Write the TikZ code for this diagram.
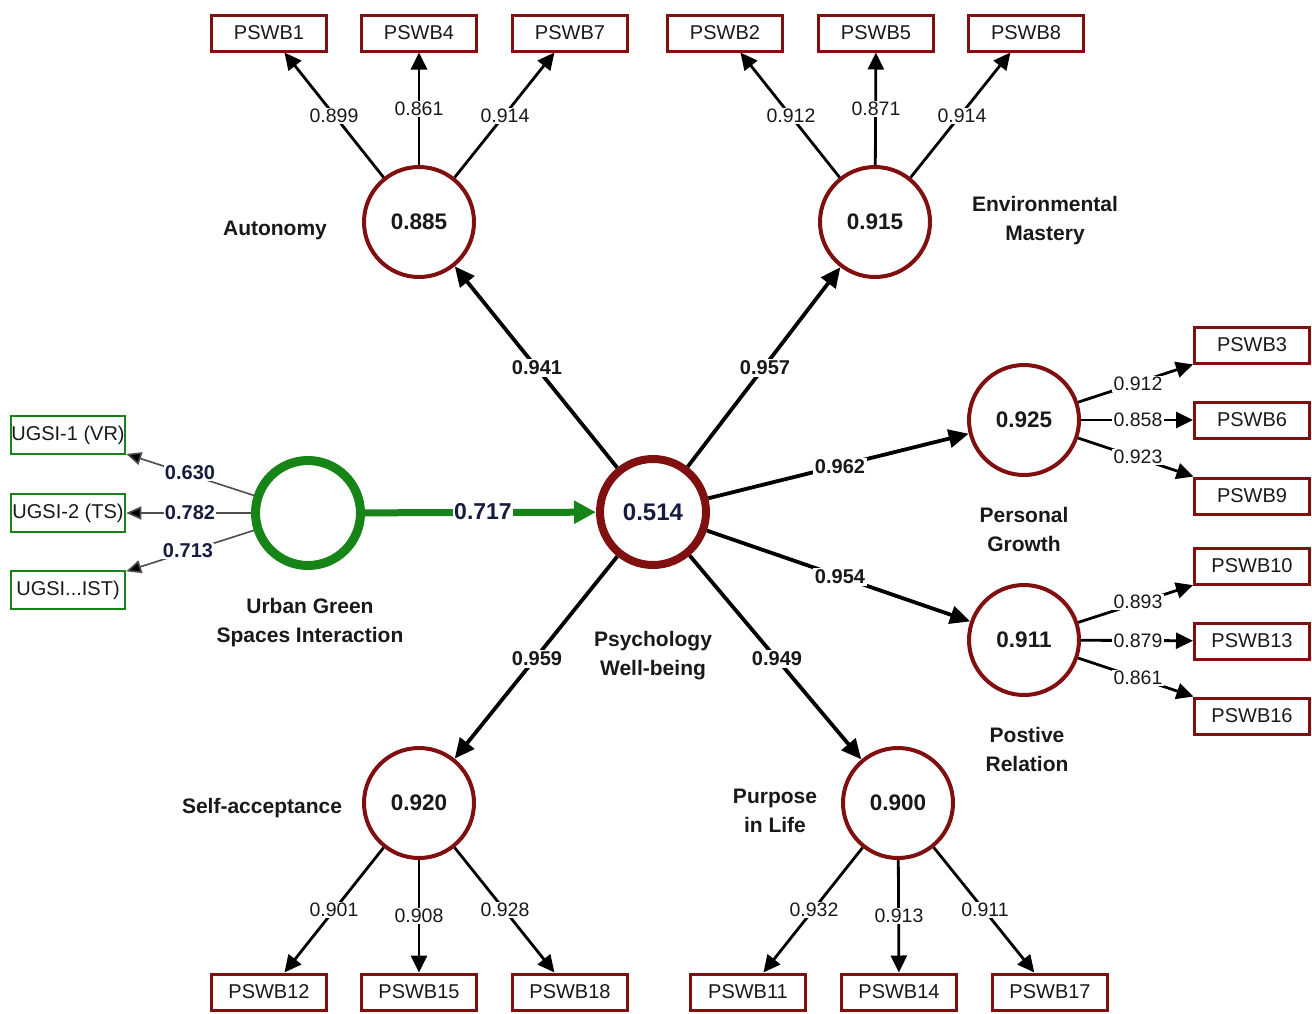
\documentclass[tikz,border=0pt]{standalone}
\usepackage{fontspec}
\setmainfont{Liberation Sans}
\usetikzlibrary{arrows.meta}
\definecolor{mar}{RGB}{128,16,16}
\definecolor{grn}{RGB}{22,132,22}
\definecolor{navy}{RGB}{22,28,62}
\definecolor{txt}{RGB}{25,25,25}
\begin{document}
\begin{tikzpicture}[x=1pt,y=-1pt,
  lat/.style={circle, draw=mar, line width=4pt, minimum size=110pt, inner sep=0pt, text=txt, font=\fontsize{22.5}{24}\selectfont\bfseries},
  ind/.style={rectangle, draw=mar, line width=3pt, minimum width=115pt, minimum height=36pt, inner sep=0pt, text=txt, font=\fontsize{20}{22}\selectfont},
  gind/.style={rectangle, draw=grn, line width=2.5pt, minimum width=114pt, minimum height=38pt, inner sep=0pt, text=txt, font=\fontsize{20}{22}\selectfont},
  lbl/.style={align=center, text=txt, font=\fontsize{21}{29}\selectfont\bfseries},
  ld/.style={fill=white, inner sep=1.5pt, text=txt, font=\fontsize{19.5}{22}\selectfont},
  pl/.style={fill=white, inner sep=1.5pt, text=txt, font=\fontsize{20}{22}\selectfont\bfseries},
  gl/.style={fill=white, inner sep=1pt, text=navy, font=\fontsize{20}{22}\selectfont\bfseries},
  load/.style={line width=2.8pt, draw=black, -{Triangle[length=17pt,width=16pt]}},
  pth/.style={line width=3.8pt, draw=black, -{Triangle[length=20pt,width=18pt]}},
  gload/.style={line width=1.6pt, draw=black!70, -{Triangle[length=15pt,width=13pt,fill=black]}}
]
\useasboundingbox (0,0) rectangle (1312,1013);

% latent variables
\node[lat] (aut) at (419,222) {0.885};
\node[lat] (em)  at (875,222) {0.915};
\node[lat] (pg)  at (1024,420) {0.925};
\node[lat] (pr)  at (1024,640) {0.911};
\node[lat] (sa)  at (419,803) {0.920};
\node[lat] (pl)  at (898,803) {0.900};
\node[lat, line width=8pt, minimum size=106pt, text=navy, font=\fontsize{24}{26}\selectfont\bfseries] (pwb) at (653,512) {0.514};
\node[circle, draw=grn, line width=9pt, minimum size=105pt, inner sep=0pt] (ugsi) at (308,513) {};

% indicators
\node[ind] (b1) at (269,33) {PSWB1};
\node[ind] (b4) at (419,33) {PSWB4};
\node[ind] (b7) at (570,33) {PSWB7};
\node[ind] (b2) at (725,33) {PSWB2};
\node[ind] (b5) at (876,33) {PSWB5};
\node[ind] (b8) at (1026,33) {PSWB8};
\node[ind] (b3) at (1252,345) {PSWB3};
\node[ind] (b6) at (1252,420) {PSWB6};
\node[ind] (b9) at (1252,496) {PSWB9};
\node[ind] (b10) at (1252,566) {PSWB10};
\node[ind] (b13) at (1252,641) {PSWB13};
\node[ind] (b16) at (1252,716) {PSWB16};
\node[ind] (b12) at (269,992) {PSWB12};
\node[ind] (b15) at (419,992) {PSWB15};
\node[ind] (b18) at (570,992) {PSWB18};
\node[ind] (b11) at (748,992) {PSWB11};
\node[ind] (b14) at (899,992) {PSWB14};
\node[ind] (b17) at (1050,992) {PSWB17};
\node[gind] (u1) at (68,435) {UGSI-1 (VR)};
\node[gind] (u2) at (68,513) {UGSI-2 (TS)};
\node[gind] (u3) at (68,590) {UGSI...IST)};

% construct labels
\node[lbl] (tAut) at (275,230) {Autonomy};
\node[lbl] (tEm) at (1045,221) {Environmental\\Mastery};
\node[lbl] (tPg) at (1024,529) {Personal\\Growth};
\node[lbl] (tPr) at (1027,749) {Postive\\Relation};
\node[lbl] (tPl) at (775,811) {Purpose\\in Life};
\node[lbl] (tSa) at (262,808) {Self-acceptance};
\node[lbl] (tPwb) at (653,656) {Psychology\\Well-being};
\node[lbl] (tUg) at (310,623) {Urban Green\\Spaces Interaction};

% structural paths
\draw[pth] (pwb) -- (aut);
\draw[pth] (pwb) -- (em);
\draw[pth] (pwb) -- (pg);
\draw[pth] (pwb) -- (pr);
\draw[pth] (pwb) -- (sa);
\draw[pth] (pwb) -- (pl);
\draw[line width=7pt, draw=grn, -{Triangle[length=22pt,width=22pt]}] (ugsi) -- (pwb);

% loadings
\draw[load] (aut) -- (b1);
\draw[load] (aut) -- (b4);
\draw[load] (aut) -- (b7);
\draw[load] (em) -- (b2);
\draw[load] (em) -- (b5);
\draw[load] (em) -- (b8);
\draw[load] (pg) -- (b3);
\draw[load] (pg) -- (b6);
\draw[load] (pg) -- (b9);
\draw[load] (pr) -- (b10);
\draw[load] (pr) -- (b13);
\draw[load] (pr) -- (b16);
\draw[load] (sa) -- (b12);
\draw[load] (sa) -- (b15);
\draw[load] (sa) -- (b18);
\draw[load] (pl) -- (b11);
\draw[load] (pl) -- (b14);
\draw[load] (pl) -- (b17);
\draw[gload] (ugsi) -- (u1);
\draw[gload] (ugsi) -- (u2);
\draw[gload] (ugsi) -- (u3);

% path coefficient labels
\node[pl] (c1) at (537,368) {0.941};
\node[pl] (c2) at (765,368) {0.957};
\node[pl] (c3) at (840,467) {0.962};
\node[pl] (c4) at (840,577) {0.954};
\node[pl] (c5) at (537,659) {0.959};
\node[pl] (c6) at (777,659) {0.949};
\node[gl, font=\fontsize{23}{24}\selectfont\bfseries] (c7) at (483,512) {0.717};

% loading labels
\node[ld] (l1) at (334,116) {0.899};
\node[ld] (l4) at (419,109) {0.861};
\node[ld] (l7) at (505,116) {0.914};
\node[ld] (l2) at (791,116) {0.912};
\node[ld] (l5) at (876,109) {0.871};
\node[ld] (l8) at (962,116) {0.914};
\node[ld] (l3) at (1138,384) {0.912};
\node[ld] (l6) at (1138,420) {0.858};
\node[ld] (l9) at (1138,457) {0.923};
\node[ld] (l10) at (1138,602) {0.893};
\node[ld] (l13) at (1138,641) {0.879};
\node[ld] (l16) at (1138,678) {0.861};
\node[ld] (l12) at (334,910) {0.901};
\node[ld] (l15) at (419,916) {0.908};
\node[ld] (l18) at (505,910) {0.928};
\node[ld] (l11) at (814,910) {0.932};
\node[ld] (l14) at (899,916) {0.913};
\node[ld] (l17) at (985,910) {0.911};
\node[gl] (g1) at (190,473) {0.630};
\node[gl] (g2) at (190,513) {0.782};
\node[gl] (g3) at (188,551) {0.713};
\end{tikzpicture}
\end{document}
